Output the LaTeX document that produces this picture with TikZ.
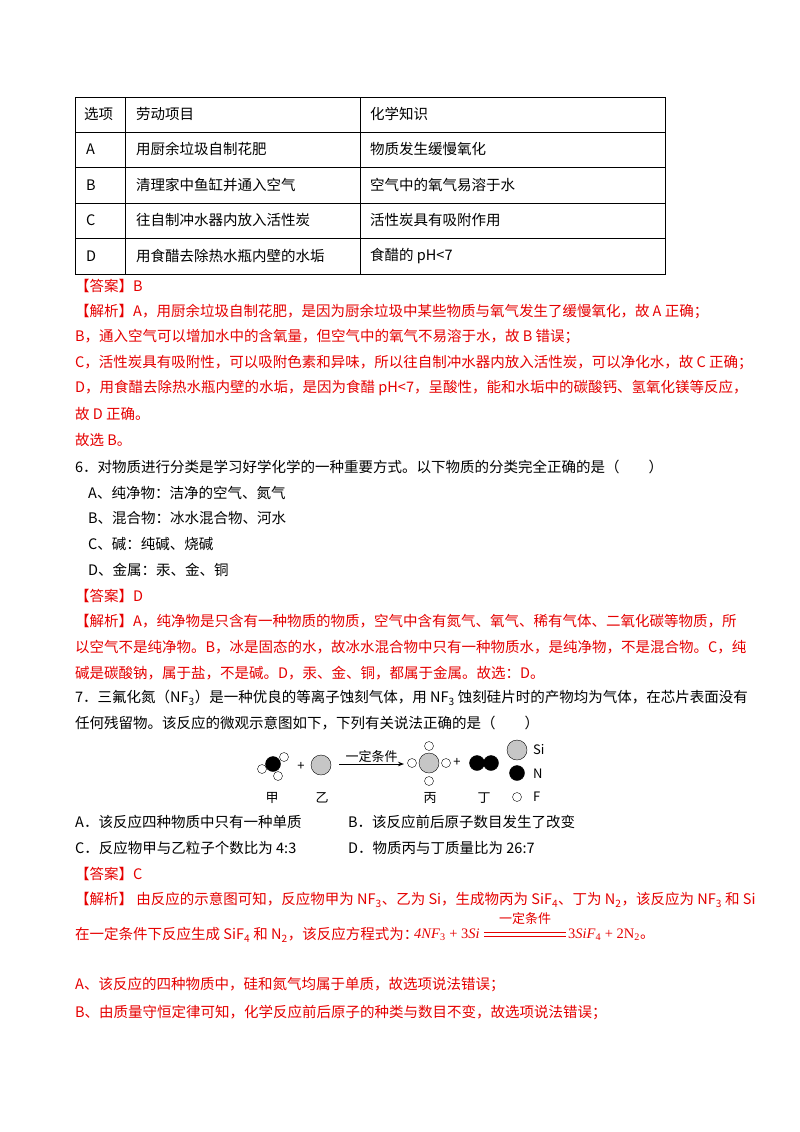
\documentclass[tikz,border=0pt]{standalone}
\usepackage{fontspec}
\usetikzlibrary{arrows.meta}
\setmainfont{Liberation Serif}
\newfontfamily\cjk{Noto Sans CJK SC}
\begin{document}
\begin{tikzpicture}[x=1pt,y=-1pt,
  t/.style={anchor=west,inner sep=0pt,font=\fontsize{14.5}{17}\selectfont\cjk},
  r/.style={t,text=red!90!black},
  big/.style={circle,draw,fill=gray!45,minimum size=20pt,inner sep=0pt},
  nat/.style={circle,draw,fill=black,minimum size=15pt,inner sep=0pt},
  fat/.style={circle,draw,fill=white,minimum size=9pt,inner sep=0pt},
  lab/.style={inner sep=0pt,font=\fontsize{13}{15}\selectfont\cjk},
  eqt/.style={anchor=west,inner sep=0pt,text=red!90!black,font=\fontsize{14.5}{17}\selectfont},
  eqline/.style={draw=red!90!black,line width=0.9pt}]
\useasboundingbox (0,0) rectangle (800,1132);
% table
\draw[line width=0.8pt] (75,97) rectangle (665,274);
\foreach \yy in {132,167,203,238} \draw (75,\yy) -- (665,\yy);
\draw (125,97) -- (125,274);
\draw (360,97) -- (360,274);
\node[t] (h1) at (84,114) {选项};
\node[t] (h2) at (136,114) {劳动项目};
\node[t] (h3) at (370,114) {化学知识};
\node[t] (a1) at (86,149) {A};
\node[t] (a2) at (136,149) {用厨余垃圾自制花肥};
\node[t] (a3) at (370,149) {物质发生缓慢氧化};
\node[t] (b1) at (86,185) {B};
\node[t] (b2) at (136,185) {清理家中鱼缸并通入空气};
\node[t] (b3) at (370,185) {空气中的氧气易溶于水};
\node[t] (c1) at (86,220) {C};
\node[t] (c2) at (136,220) {往自制冲水器内放入活性炭};
\node[t] (c3) at (370,220) {活性炭具有吸附作用};
\node[t] (d1) at (86,256) {D};
\node[t] (d2) at (136,256) {用食醋去除热水瓶内壁的水垢};
\node[t] (d3) at (370,256) {食醋的 pH<7};
% answer 5
\node[r] (l1) at (75,286) {【答案】B};
\node[r] (l2) at (75,312) {【解析】A，用厨余垃圾自制花肥，是因为厨余垃圾中某些物质与氧气发生了缓慢氧化，故 A 正确；};
\node[r] (l3) at (75,337) {B，通入空气可以增加水中的含氧量，但空气中的氧气不易溶于水，故 B 错误；};
\node[r] (l4) at (75,363) {C，活性炭具有吸附性，可以吸附色素和异味，所以往自制冲水器内放入活性炭，可以净化水，故 C 正确；};
\node[r] (l5) at (75,388) {D，用食醋去除热水瓶内壁的水垢，是因为食醋 pH<7，呈酸性，能和水垢中的碳酸钙、氢氧化镁等反应，};
\node[r] (l6) at (75,414) {故 D 正确。};
\node[r] (l7) at (75,440) {故选 B。};
% question 6
\node[t] (q6) at (75,467) {6．对物质进行分类是学习好学化学的一种重要方式。以下物质的分类完全正确的是（\quad\quad）};
\node[t] (q6a) at (88,493) {A、纯净物：洁净的空气、氮气};
\node[t] (q6b) at (88,518) {B、混合物：冰水混合物、河水};
\node[t] (q6c) at (88,544) {C、碱：纯碱、烧碱};
\node[t] (q6d) at (88,570) {D、金属：汞、金、铜};
\node[r] (m1) at (75,596) {【答案】D};
\node[r] (m2) at (75,621) {【解析】A，纯净物是只含有一种物质的物质，空气中含有氮气、氧气、稀有气体、二氧化碳等物质，所};
\node[r] (m3) at (75,647) {以空气不是纯净物。B，冰是固态的水，故冰水混合物中只有一种物质水，是纯净物，不是混合物。C，纯};
\node[r] (m4) at (75,673) {碱是碳酸钠，属于盐，不是碱。D，汞、金、铜，都属于金属。故选：D。};
% question 7
\node[t] (q7) at (75,698) {7．三氟化氮（NF\textsubscript{3}）是一种优良的等离子蚀刻气体，用 NF\textsubscript{3} 蚀刻硅片时的产物均为气体，在芯片表面没有};
\node[t] (q7b) at (75,723) {任何残留物。该反应的微观示意图如下，下列有关说法正确的是（\quad\quad）};
% diagram
\node[fat] (f1) at (262,769) {};
\node[fat] (f2) at (278,776) {};
\node[fat] (f4) at (284,757) {};
\node[nat] (n1) at (273,764) {};
\node[lab] (plus1) at (301,766) {+};
\node[big] (si) at (321,765) {};
\coordinate (ar1) at (339,764);
\coordinate (ar2) at (404,764);
\draw[-{Stealth[length=6pt]},thick] (ar1) -- (ar2) node[midway,above=1pt,lab] {一定条件};
\node[fat] (g1) at (429,746) {};
\node[fat] (g2) at (429,781) {};
\node[fat] (g3) at (412,763) {};
\node[fat] (g4) at (446,763) {};
\node[big] (si2) at (429,763) {};
\node[lab] (plus2) at (457,762) {+};
\node[nat] (n2) at (477,763) {};
\node[nat] (n3) at (491,763) {};
\node[big] (lsi) at (517,750) {};
\node[lab,anchor=west] (tsi) at (533,750) {Si};
\node[nat] (ln) at (517,773) {};
\node[lab,anchor=west] (tn) at (533,774) {N};
\node[fat] (lf) at (517,797) {};
\node[lab,anchor=west] (tf) at (533,797) {F};
\node[lab] (jia) at (272,798) {甲};
\node[lab] (yi) at (322,798) {乙};
\node[lab] (bing) at (430,798) {丙};
\node[lab] (ding) at (484,798) {丁};
% options
\node[t] (o1) at (75,822) {A．该反应四种物质中只有一种单质};
\node[t] (o2) at (348,822) {B．该反应前后原子数目发生了改变};
\node[t] (o3) at (75,848) {C．反应物甲与乙粒子个数比为 4:3};
\node[t] (o4) at (348,848) {D．物质丙与丁质量比为 26:7};
\node[r] (p1) at (75,874) {【答案】C};
\node[r] (p2) at (75,900) {【解析】 由反应的示意图可知，反应物甲为 NF\textsubscript{3}、乙为 Si，生成物丙为 SiF\textsubscript{4}、丁为 N\textsubscript{2}，该反应为 NF\textsubscript{3} 和 Si};
\node[r] (p3) at (75,935) {在一定条件下反应生成 SiF\textsubscript{4} 和 N\textsubscript{2}，该反应方程式为：};
\node[eqt] (eqL) at (414,935) {\textit{4NF}\textsubscript{3} + 3\textit{Si}};
\node[eqt] (eqR) at (568,935) {3\textit{SiF}\textsubscript{4} + 2N\textsubscript{2}{\cjk 。}};
\coordinate (e1) at (484,932);
\coordinate (e2) at (566,932);
\coordinate (e3) at (484,936);
\coordinate (e4) at (566,936);
\path[eqline] (e1) -- (e2);
\path[eqline] (e3) -- (e4);
\node[lab,text=red!90!black] (cond) at (525,919) {一定条件};
\node[r] (s1) at (75,985) {A、该反应的四种物质中，硅和氮气均属于单质，故选项说法错误；};
\node[r] (s2) at (75,1012) {B、由质量守恒定律可知，化学反应前后原子的种类与数目不变，故选项说法错误；};
\end{tikzpicture}
\end{document}
